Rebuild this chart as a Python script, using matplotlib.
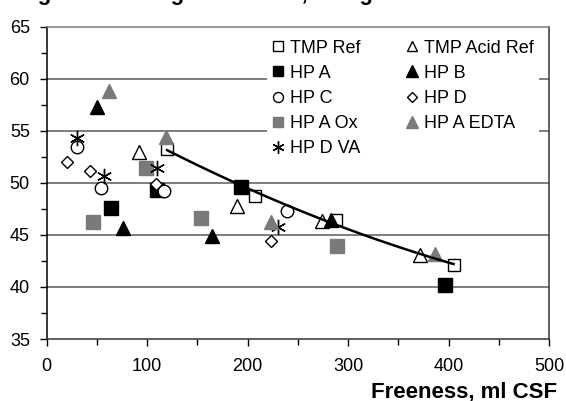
import numpy as np
import matplotlib
matplotlib.use("Agg")
import matplotlib.pyplot as plt
from matplotlib.ticker import MultipleLocator

plt.rcParams['font.family'] = ['Liberation Sans', 'DejaVu Sans']

# freeness (ml CSF) and light scattering values
tmp_ref_x = [120, 207, 288, 405]
tmp_ref_y = [53.3, 48.7, 46.4, 42.1]
tmp_acid_x = [92, 190, 274, 372]
tmp_acid_y = [53.0, 47.8, 46.3, 43.1]
hp_a_x = [64, 110, 194, 396]
hp_a_y = [47.6, 49.3, 49.6, 40.2]
hp_b_x = [50, 76, 165, 283]
hp_b_y = [57.3, 45.7, 44.9, 46.4]
hp_c_x = [30, 54, 117, 239]
hp_c_y = [53.4, 49.5, 49.2, 47.3]
hp_d_x = [20, 43, 109, 223]
hp_d_y = [52.0, 51.1, 49.9, 44.4]
hp_a_ox_x = [46, 99, 154, 289]
hp_a_ox_y = [46.2, 51.4, 46.6, 43.9]
hp_a_edta_x = [62, 119, 223, 387]
hp_a_edta_y = [58.8, 54.4, 46.2, 43.2]
hp_d_va_x = [30, 57, 110, 230]
hp_d_va_y = [54.3, 50.7, 51.4, 45.8]

gray = '#7a7a7a'

fig = plt.figure(figsize=(5.66, 4.01), dpi=100)
ax = fig.add_axes([0.0822, 0.1546, 0.970 - 0.0822, 0.9334 - 0.1546])

# horizontal grid lines
for g in [40, 45, 50, 55, 60]:
    ax.axhline(g, color='#5a5a5a', lw=1.1, zorder=1)

series = [
    ("TMP Ref", tmp_ref_x, tmp_ref_y, dict(marker='s', ms=8.5, mfc='white', mec='black')),
    ("HP A", hp_a_x, hp_a_y, dict(marker='s', ms=9.5, mfc='black', mec='black')),
    ("HP C", hp_c_x, hp_c_y, dict(marker='o', ms=9, mfc='white', mec='black')),
    ("HP A Ox", hp_a_ox_x, hp_a_ox_y, dict(marker='s', ms=9.5, mfc=gray, mec=gray)),
    ("HP D VA", hp_d_va_x, hp_d_va_y, dict(marker=(6, 2, 0), ms=11, mfc='black', mec='black')),
    ("TMP Acid Ref", tmp_acid_x, tmp_acid_y, dict(marker='^', ms=9.5, mfc='white', mec='black')),
    ("HP B", hp_b_x, hp_b_y, dict(marker='^', ms=10, mfc='black', mec='black')),
    ("HP D", hp_d_x, hp_d_y, dict(marker='D', ms=6.5, mfc='white', mec='black')),
    ("HP A EDTA", hp_a_edta_x, hp_a_edta_y, dict(marker='^', ms=10, mfc=gray, mec=gray)),
]

handles = []
for label, xs, ys, st in series:
    h, = ax.plot(xs, ys, linestyle='none', mew=1.0, label=label, zorder=3, **st)
    handles.append(h)

# 2nd order trend through the TMP reference points
coef = np.polyfit(tmp_ref_x, tmp_ref_y, 2)
xt = np.linspace(min(tmp_ref_x), max(tmp_ref_x), 100)
ax.plot(xt, np.polyval(coef, xt), color='black', lw=1.8, zorder=4)

ax.set_xlim(0, 500)
ax.set_ylim(35, 65)
ax.xaxis.set_major_locator(MultipleLocator(100))
ax.xaxis.set_minor_locator(MultipleLocator(50))
ax.yaxis.set_major_locator(MultipleLocator(5))
ax.yaxis.set_minor_locator(MultipleLocator(2.5))
ax.tick_params(which='major', direction='out', length=5, width=1, labelsize=13)
ax.tick_params(which='minor', direction='out', length=4, width=1)
ax.tick_params(axis='y', which='major', pad=7)
ax.tick_params(axis='x', which='major', pad=9)

ax.spines['left'].set_color('black')
ax.spines['top'].set_color('#7a7a7a')
ax.spines['right'].set_color('#333333')
ax.spines['bottom'].set_color('#333333')
for s in ax.spines.values():
    s.set_linewidth(1.1)

leg = ax.legend(handles=handles, ncol=2, loc='upper left',
                bbox_to_anchor=(0.42, 1.005), fontsize=13,
                frameon=True, facecolor='white', edgecolor='none', framealpha=1,
                fancybox=False, markerscale=0.8, handlelength=0.7,
                handletextpad=0.3, columnspacing=2.5, labelspacing=0.45,
                borderpad=0.3)
leg.set_zorder(5)

fig.text(557 / 566, 0.008, "Freeness, ml CSF", ha='right', va='baseline',
         fontsize=16, fontweight='bold')
fig.text(18 / 566, 1.0, "Light scattering coefficient, m²/kg", ha='left', va='baseline',
         fontsize=16, fontweight='bold')

fig.savefig("out.png", dpi=100)
plt.close(fig)
